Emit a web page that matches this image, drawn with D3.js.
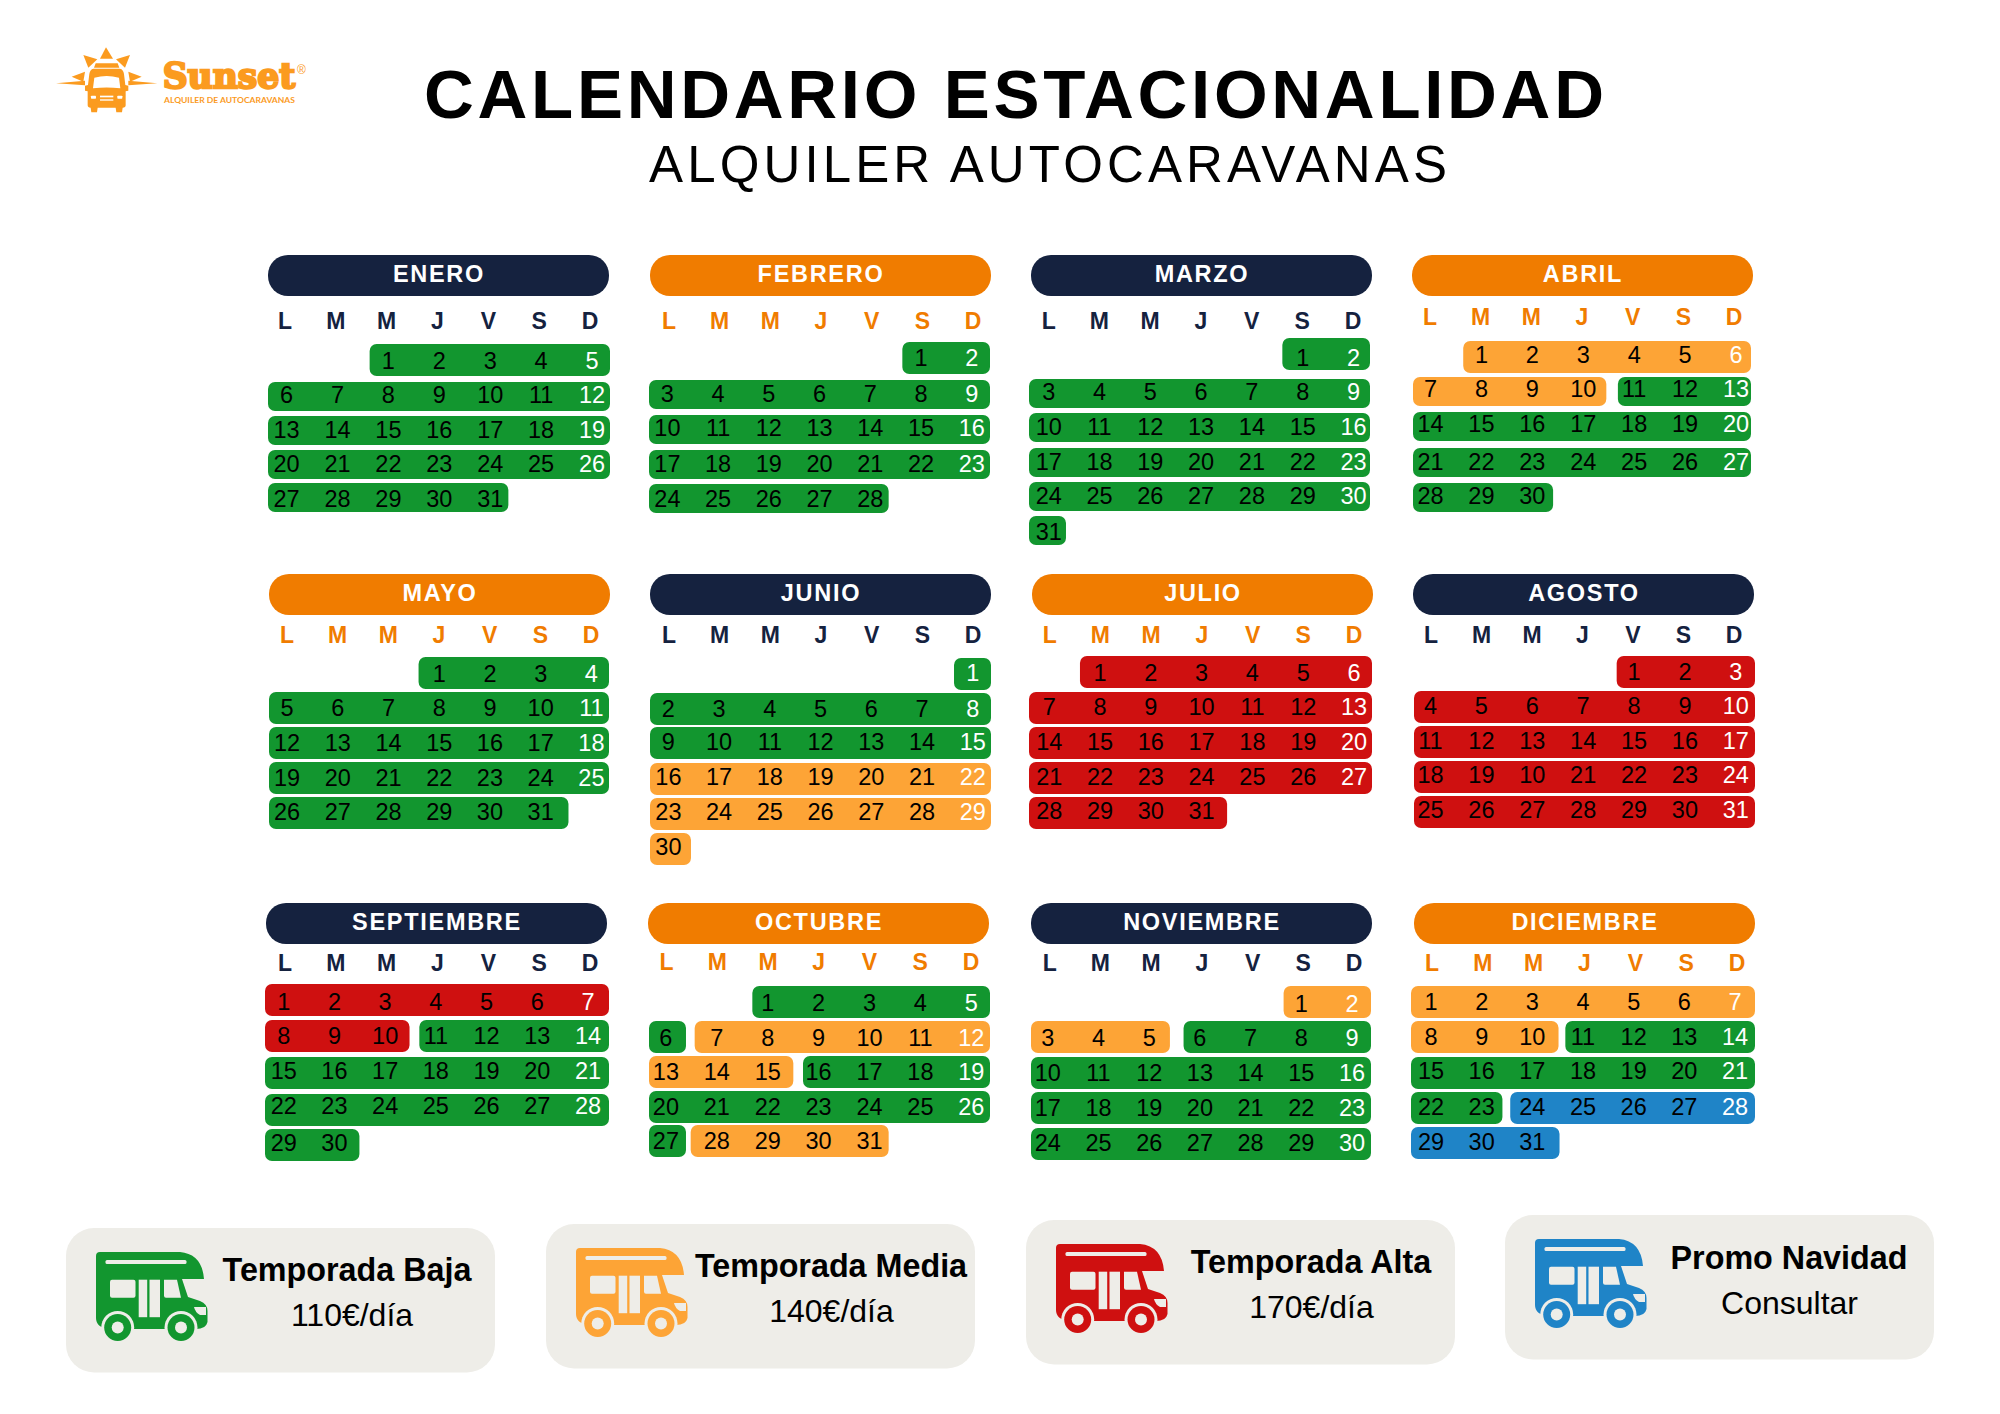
<!DOCTYPE html>
<html>
<head>
<meta charset="utf-8">
<title>Calendario estacionalidad</title>
<style>
  body { margin: 0; background: #fff; }
  svg { display: block; }
  text { font-family: "Liberation Sans", Arial, sans-serif; }
</style>
</head>
<body>
<svg width="2000" height="1414"></svg>
<script src="https://cdnjs.cloudflare.com/ajax/libs/d3/7.8.5/d3.min.js"></script>
<script>
// ---- data ----
var monthNames = ["ENERO", "FEBRERO", "MARZO", "ABRIL", "MAYO", "JUNIO", "JULIO", "AGOSTO",
  "SEPTIEMBRE", "OCTUBRE", "NOVIEMBRE", "DICIEMBRE"];
var weekdays = ["L", "M", "M", "J", "V", "S", "D"];
// column of the 1st of each month, 0 = lunes
var firstWeekday = [2, 5, 5, 1, 3, 6, 1, 4, 0, 2, 5, 0];
var monthLength = [31, 28, 31, 30, 31, 30, 31, 31, 30, 31, 30, 31];
var monthTheme = ["navy", "orange", "navy", "orange", "orange", "navy", "orange", "navy",
  "navy", "orange", "navy", "orange"];
// [first day, last day, season]
var seasonRuns = [
  [[1, 31, "baja"]],
  [[1, 28, "baja"]],
  [[1, 31, "baja"]],
  [[1, 10, "media"], [11, 30, "baja"]],
  [[1, 31, "baja"]],
  [[1, 15, "baja"], [16, 30, "media"]],
  [[1, 31, "alta"]],
  [[1, 31, "alta"]],
  [[1, 10, "alta"], [11, 30, "baja"]],
  [[1, 6, "baja"], [7, 15, "media"], [16, 27, "baja"], [28, 31, "media"]],
  [[1, 5, "media"], [6, 30, "baja"]],
  [[1, 10, "media"], [11, 23, "baja"], [24, 31, "promo"]]
];
// the reference prints 10 instead of 20 in agosto
var misprints = { "7-20": "10" };

var legendTitles = ["Temporada Baja", "Temporada Media", "Temporada Alta", "Promo Navidad"];
var legendPrices = ["110€/día", "140€/día", "170€/día", "Consultar"];
var legendSeasons = ["baja", "media", "alta", "promo"];

// ---- colours ----
var seasonColor = d3.scaleOrdinal()
  .domain(["baja", "media", "alta", "promo"])
  .range(["#12962f", "#fda436", "#cf1010", "#1f84c7"]);
var themeColor = { navy: "#15223f", orange: "#f07c00" };
var cardColor = "#eeede8";
var logoColor = "#fb9b1f";

// ---- layout ----
var gridLeft = [268, 649, 1029, 1413, 269, 650, 1029, 1414, 265, 649, 1031, 1411];
var gridRight = [610, 990, 1370, 1751, 609, 991, 1372, 1755, 609, 990, 1371, 1755];
var headerLeft = [268, 650, 1031, 1412, 269, 650, 1032, 1413, 266, 648, 1031, 1414];
var headerTop = [255, 255, 255, 255, 574, 574, 574, 574, 903, 903, 903, 903];
var weekdayMid = [320, 320, 320, 316, 634, 634, 634, 634, 962, 961, 962, 962];
// centre of the L and D letters
var weekdayEnds = [[285, 590], [669, 973], [1048.7, 1353], [1430, 1734], [287, 591], [669, 973],
  [1049.7, 1354], [1431, 1734], [285, 590], [666.5, 971], [1049.7, 1354], [1432, 1737]];
// centre of the numbers in the first and last column
var dayEnds = [[286.6, 592], [667.4, 971.7], [1048.7, 1353.5], [1430.5, 1736], [287, 591.4],
  [668.4, 972.7], [1049.2, 1354], [1430.5, 1735.8], [283.7, 588], [665.9, 971.3], [1047.8, 1352], [1431, 1735]];
var rowTops = [
  [344, 382, 416, 450, 483],
  [342, 380, 415, 450, 484],
  [338, 379, 413, 448, 482, 516],
  [341, 377, 412, 448, 483],
  [657, 692, 727, 762, 797],
  [658, 693, 727, 763, 798, 833],
  [656, 692, 727, 762, 797],
  [656, 691, 726, 761, 796],
  [984, 1020, 1057, 1094, 1129],
  [986, 1021, 1056, 1091, 1125],
  [986, 1021, 1057, 1092, 1128],
  [986, 1021, 1057, 1092, 1127]
];
var labelMids = [
  [360.7, 394.7, 429.7, 464, 498.3],
  [357.3, 393.3, 427.3, 464, 499],
  [357.3, 391.7, 426.7, 461.7, 495.7, 531.7],
  [354.7, 388.7, 423.7, 461.7, 495.7],
  [674, 708, 742.7, 777.3, 812],
  [673, 708.3, 742, 777, 811.7, 846.7],
  [672.7, 706.7, 741.7, 776.3, 811],
  [671.7, 706, 741, 775, 810],
  [1001.7, 1036, 1070.7, 1105.7, 1142.7],
  [1002.7, 1037.7, 1071.7, 1106.7, 1141],
  [1003.5, 1038, 1072.8, 1107.3, 1142.8],
  [1002, 1037, 1071, 1106.3, 1142]
];
// px added to the run ends that stop short of the band edges, key = month-day
var endNudge = { "3-10": 6, "3-30": 3, "4-31": 10, "5-30": 4, "6-31": 8, "8-10": 5, "8-30": 6,
  "9-15": 6, "10-5": 1, "11-10": 8, "11-23": 3, "11-31": 9 };
var startNudge = { "3-11": 4, "4-1": -2, "8-11": 1, "9-1": 2, "9-7": -5, "9-16": 2, "9-28": -9,
  "10-6": 1, "11-11": 1, "11-24": -3 };
var headerW = 341, headerH = 41;
var cards = [
  { x: 66, y: 1228, titleX: 281, priceX: 286, titleY: 53, priceY: 98 },
  { x: 546, y: 1224, titleX: 285, priceX: 285.5, titleY: 53, priceY: 98 },
  { x: 1026, y: 1220, titleX: 285, priceX: 285.5, titleY: 53, priceY: 98 },
  { x: 1505, y: 1215, titleX: 284, priceX: 284.5, titleY: 54, priceY: 99 }
];

var svg = d3.select("svg");

// ---- logo, drawn in 3x coordinates ----
var logo = svg.append("g").attr("transform", "translate(40,30) scale(0.3333)");
var logoTriangles = [
  "M198,52L180,86L219,86Z",
  "M130,75L172,88L145,113Z",
  "M270,75L228,88L255,113Z",
  "M95,140L135,125L130,155Z",
  "M305,140L265,125L270,155Z",
  "M48,160L135,152L135,166Z",
  "M352,160L265,152L265,166Z"
];
logo.selectAll("path.ray").data(logoTriangles).enter().append("path")
  .attr("class", "ray").attr("d", function (d) { return d; }).attr("fill", logoColor);
logo.append("path").attr("fill", logoColor)
  .attr("d", "M167,100L233,100L238,113L162,113Z");
logo.append("path").attr("fill", logoColor)
  .attr("d", "M160,116L240,116Q250,118 252,132L256,165L265,167L265,182L257,184L257,226Q257,233 248,233L246,247L229,247L227,233L173,233L171,247L154,247L152,233Q143,233 143,226L143,184L135,182L135,167L144,165L148,132Q150,118 160,116Z");
logo.append("path").attr("fill", "#fff")
  .attr("d", "M163,143Q200,133 237,143L241,175Q200,170 159,175Z");
logo.append("rect").attr("x", 180).attr("y", 197).attr("width", 40).attr("height", 5).attr("fill", "#fff");
logo.append("rect").attr("x", 180).attr("y", 208).attr("width", 40).attr("height", 4).attr("fill", "#fff");
logo.append("rect").attr("x", 153).attr("y", 197).attr("width", 15).attr("height", 9).attr("rx", 2).attr("fill", "#fff");
logo.append("rect").attr("x", 232).attr("y", 197).attr("width", 15).attr("height", 9).attr("rx", 2).attr("fill", "#fff");
logo.append("text").text("Sunset")
  .attr("x", 368).attr("y", 175)
  .attr("textLength", 398).attr("lengthAdjust", "spacingAndGlyphs")
  .attr("fill", logoColor).attr("stroke", logoColor).attr("stroke-width", 7)
  .style("font-family", "'DejaVu Serif'").style("font-weight", 700).style("font-size", "104px");
logo.append("text").text("®")
  .attr("x", 771).attr("y", 132)
  .attr("fill", logoColor)
  .style("font-size", "36px");
logo.append("text").text("ALQUILER DE AUTOCARAVANAS")
  .attr("x", 372).attr("y", 218)
  .attr("textLength", 393).attr("lengthAdjust", "spacingAndGlyphs")
  .attr("fill", logoColor)
  .style("font-family", "Lato").style("font-weight", 700).style("font-size", "23px");

// ---- title ----
svg.append("text").text("CALENDARIO ESTACIONALIDAD")
  .attr("x", 424).attr("y", 118)
  .attr("textLength", 1180).attr("lengthAdjust", "spacing")
  .attr("fill", "#000")
  .style("font-weight", 700).style("font-size", "69px");
svg.append("text").text("ALQUILER AUTOCARAVANAS")
  .attr("x", 649).attr("y", 182)
  .attr("textLength", 798).attr("lengthAdjust", "spacing")
  .attr("fill", "#000")
  .style("font-size", "51px");

// ---- months ----
monthNames.forEach(function (name, m) {
  var g = svg.append("g").attr("class", "month");
  var color = themeColor[monthTheme[m]];

  var x = d3.scaleBand()
    .domain(d3.range(7))
    .range([gridLeft[m], gridRight[m]])
    .paddingInner(0.27);
  var weekdayX = d3.scalePoint().domain(d3.range(7)).range(weekdayEnds[m]);
  var dayX = d3.scalePoint().domain(d3.range(7)).range(dayEnds[m]);
  var rowH = function (r) { return m < 4 ? (r === 0 ? 32 : 29) : 32; };
  var y = d3.scaleOrdinal().domain(d3.range(rowTops[m].length)).range(rowTops[m]);
  var labelY = d3.scaleOrdinal().domain(d3.range(labelMids[m].length)).range(labelMids[m]);

  g.append("rect")
    .attr("x", headerLeft[m]).attr("y", headerTop[m])
    .attr("width", headerW).attr("height", headerH)
    .attr("rx", 20)
    .attr("fill", color);
  g.append("text").text(name)
    .attr("x", headerLeft[m] + headerW / 2 + 0.5).attr("y", headerTop[m] + 26.5)
    .attr("text-anchor", "middle")
    .attr("fill", "#fff")
    .style("font-weight", 700).style("font-size", "23.5px").style("letter-spacing", "1.7px");

  g.selectAll("text.wd").data(weekdays).enter().append("text")
    .attr("class", "wd")
    .text(function (d) { return d; })
    .attr("x", function (d, i) { return weekdayX(i); })
    .attr("y", weekdayMid[m] + 8.5)
    .attr("text-anchor", "middle")
    .attr("fill", color)
    .style("font-weight", 700).style("font-size", "23px");

  // split each season run at the week ends
  var segments = [];
  seasonRuns[m].forEach(function (run) {
    var day = run[0];
    while (day <= run[1]) {
      var pos = day - 1 + firstWeekday[m];
      var col = pos % 7;
      var last = Math.min(run[1], day + 6 - col);
      segments.push({
        row: Math.floor(pos / 7),
        col0: col,
        col1: col + last - day,
        season: run[2],
        start: startNudge[m + "-" + day] || 0,
        end: endNudge[m + "-" + last] || 0
      });
      day = last + 1;
    }
  });

  g.selectAll("rect.run").data(segments).enter().append("rect")
    .attr("class", "run")
    .attr("x", function (d) { return x(d.col0) + d.start; })
    .attr("y", function (d) { return y(d.row); })
    .attr("width", function (d) { return x(d.col1) + x.bandwidth() + d.end - x(d.col0) - d.start; })
    .attr("height", function (d) { return rowH(d.row); })
    .attr("rx", 7)
    .attr("fill", function (d) { return seasonColor(d.season); });

  var days = d3.range(1, monthLength[m] + 1);
  g.selectAll("text.day").data(days).enter().append("text")
    .attr("class", "day")
    .text(function (d) { return misprints[m + "-" + d] || d; })
    .attr("x", function (d) { return dayX((d - 1 + firstWeekday[m]) % 7); })
    .attr("y", function (d) { return labelY(Math.floor((d - 1 + firstWeekday[m]) / 7)) + 8.4; })
    .attr("text-anchor", "middle")
    .attr("fill", function (d) { return (d - 1 + firstWeekday[m]) % 7 === 6 ? "#fff" : "#000"; })
    .style("font-size", "23.5px");
});

// ---- legend ----
var truckBody = "M4,0L84,0Q106,2 108,27L86,27L92,45L104,49Q111.5,52 111.5,59L111.5,70Q110,77 100,77L14,77Q0,76 0,66L0,4Q0,0 4,0Z";

var card = svg.selectAll("g.card").data(cards).enter().append("g")
  .attr("class", "card")
  .attr("transform", function (d) { return "translate(" + d.x + "," + d.y + ")"; });

card.append("rect")
  .attr("width", 429).attr("height", 144.5)
  .attr("rx", 28)
  .attr("fill", cardColor);

card.each(function (d, i) {
  var c = d3.select(this);
  var fill = seasonColor(legendSeasons[i]);
  var t = c.append("g").attr("transform", "translate(30,24)");
  t.append("path").attr("d", truckBody).attr("fill", fill);
  // stripe, windows, door and headlight are cut out in the card colour
  t.append("rect").attr("x", 9.5).attr("y", 8).attr("width", 81).attr("height", 4).attr("rx", 1.5).attr("fill", cardColor);
  t.append("rect").attr("x", 14).attr("y", 27.7).attr("width", 25.5).attr("height", 18).attr("rx", 2).attr("fill", cardColor);
  t.append("rect").attr("x", 42.7).attr("y", 27.7).attr("width", 8.5).attr("height", 37.5).attr("fill", cardColor);
  t.append("rect").attr("x", 53.5).attr("y", 27.7).attr("width", 10.5).attr("height", 37.5).attr("fill", cardColor);
  t.append("path").attr("d", "M68,27.7L81,27.7L85,45.7L70,45.7Q68,45.7 68,43.7Z").attr("fill", cardColor);
  t.append("path").attr("d", "M98,55L110,55L110,63L104,63Q99,60 98,55Z").attr("fill", cardColor);
  [21.7, 85].forEach(function (cx) {
    t.append("circle").attr("cx", cx).attr("cy", 75.5).attr("r", 16.5).attr("fill", cardColor);
    t.append("circle").attr("cx", cx).attr("cy", 75.5).attr("r", 13.5).attr("fill", fill);
    t.append("circle").attr("cx", cx).attr("cy", 75.5).attr("r", 6).attr("fill", cardColor);
  });

  c.append("text").text(legendTitles[i])
    .attr("x", d.titleX).attr("y", d.titleY)
    .attr("text-anchor", "middle")
    .attr("fill", "#000")
    .style("font-weight", 700).style("font-size", "32.3px");
  c.append("text").text(legendPrices[i])
    .attr("x", d.priceX).attr("y", d.priceY)
    .attr("text-anchor", "middle")
    .attr("fill", "#000")
    .style("font-size", "32px");
});
</script>
</body>
</html>
